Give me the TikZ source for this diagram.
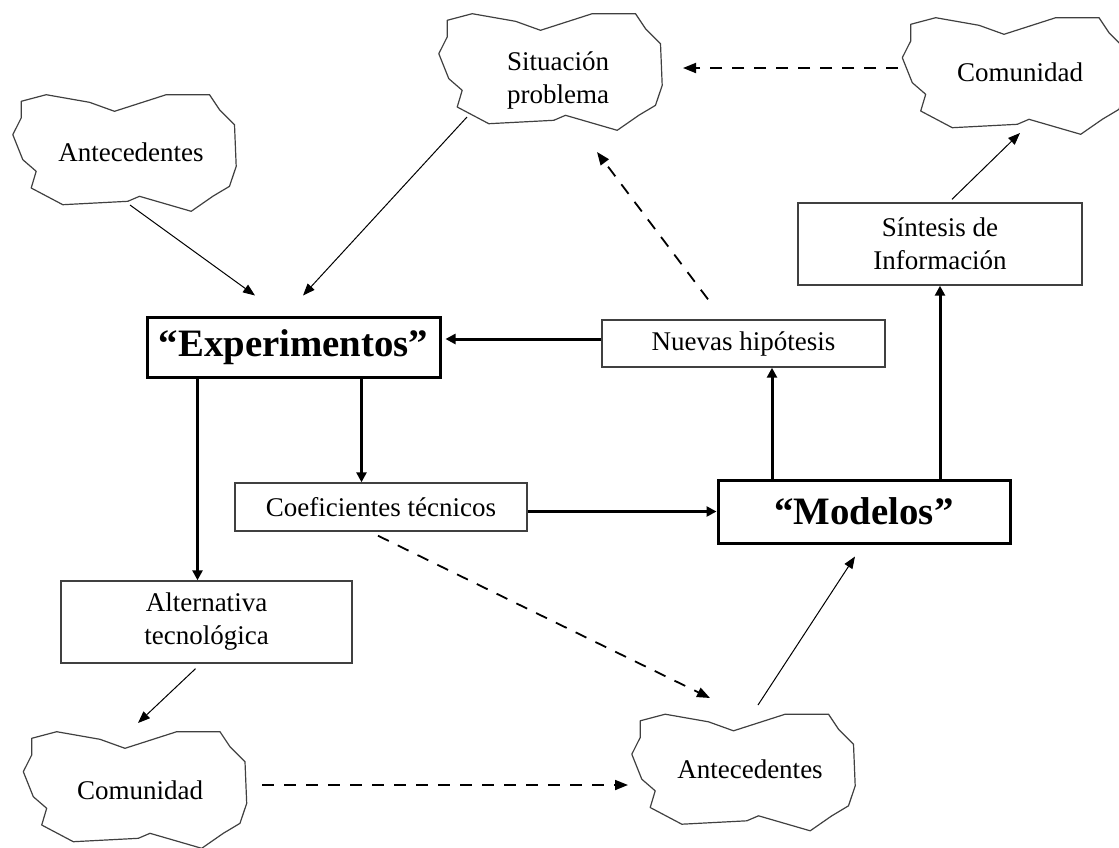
\documentclass[tikz,border=0pt]{standalone}
\usepackage{fontspec}
\setmainfont{Liberation Serif}
\usetikzlibrary{arrows.meta, calc}
\tikzstyle{myBox} = [rectangle, draw=black!75, line width=.7pt, text centered, inner sep=0pt, align=center, font=\fontsize{13.5}{16.5}\selectfont]
\tikzstyle{boldBox} = [rectangle, draw, line width=1.5pt, text centered, inner sep=0pt, font=\fontsize{19.4}{22}\selectfont\bfseries]
\tikzstyle{myCloud} = [inner sep=0pt, align=center, font=\fontsize{13.5}{16.5}\selectfont]
\tikzstyle{cloudLine} = [draw=black!75, line width=.6pt, line join=round]
\tikzstyle{thinArrow} = [-{Triangle[length=6pt,width=4.6pt]}, line width=.5pt]
\tikzstyle{thickArrow} = [-{Triangle[length=5pt,width=5pt]}, line width=1.5pt]
\tikzstyle{dashArrow} = [-{Triangle[length=6.5pt,width=5pt]}, line width=.9pt, dash pattern=on 6pt off 5pt]

\begin{document}
\begin{tikzpicture}[x=0.5pt, y=-0.5pt]
		\useasboundingbox (0,0) rectangle (1119,847);
		% boxes
		\node [boldBox, minimum width=146.5pt, minimum height=30pt](b1) at (293.5,347) {“Experimentos”};
		\node [myBox, minimum width=141.5pt, minimum height=23.5pt](b2) at (743.5,343.5) {Nuevas hipótesis};
		\node [myBox, minimum width=142pt, minimum height=41pt](b3) at (940,244) {Síntesis de\\Información};
		\node [myBox, minimum width=146pt, minimum height=24pt](b4) at (381,507) {Coeficientes técnicos};
		\node [boldBox, minimum width=146pt, minimum height=31.5pt](b5) at (864,511.5) {“Modelos”};
		\node [myBox, minimum width=145.5pt, minimum height=41pt](b6) at (206.5,622) {Alternativa\\tecnológica};
		% clouds
		\node [myCloud](c1) at (131,152) {Antecedentes};
		\node [myCloud](c2) at (558,80) {Situación\\problema};
		\node [myCloud](c3) at (1020,72) {Comunidad};
		\node [myCloud](c4) at (140,790) {Comunidad};
		\node [myCloud](c5) at (750,769) {Antecedentes};
		\foreach \c/\dx/\dy in {c1/-6.5/1, c2/-7.5/-8, c3/-6/4, c4/-5/0, c5/-6.5/3.5}
			\draw [cloudLine, shift={(\c.center)}, shift={(\dx,\dy)}]
				(-103.3,-51.7) -- (-78.3,-58.3) -- (-35,-50.7) -- (-10,-41.7) -- (41.7,-58.3)
				-- (85,-58.3) -- (95,-43.3) -- (110,-28.3) -- (111.7,13.3) -- (105,33.3)
				-- (88.3,43.3) -- (66.7,58.3) -- (15,43.3) -- (3.3,48.3) -- (-61.7,51.7)
				-- (-93.3,35) -- (-88.3,18.3) -- (-101.7,6.7) -- (-111.7,-18.3) -- (-103.3,-35) -- cycle;
		% arrows
		\draw [thinArrow] ($(c1)+(-1,53)$) -- ($(b1.north)+(-38.5,-20)$);
		\draw [thinArrow] ($(c2)+(-91,37)$) -- ($(b1.north)+(9.5,-20)$);
		\draw [thickArrow] ($(b2.west)+(0,-4.5)$) -- ($(b1.east)+(4,-8)$);
		\draw [dashArrow] ($(b2.north)+(-35.5,-20)$) -- ($(c2)+(39,72)$);
		\draw [dashArrow] ($(c3)+(-122,-4)$) -- ($(c2)+(125,-12)$);
		\draw [thinArrow] ($(b3.north)+(12,-3)$) -- ($(c3)+(0,61)$);
		\draw [thickArrow] ($(b5.north)+(-92,0)$) coordinate (m1) -- (m1 |- b2.south);
		\draw [thickArrow] (b5.north -| b3.south) -- (b3.south);
		\draw [thickArrow] ($(b1.south)+(68,0)$) coordinate (e1) -- (e1 |- b4.north);
		\draw [thickArrow] ($(b1.south)+(-96,0)$) coordinate (e2) -- (e2 |- b6.north);
		\draw [thickArrow] (b4.east |- b5.west) -- (b5.west);
		\draw [dashArrow] ($(b4.south)+(-3,4)$) -- ($(c5)+(-40,-71)$);
		\draw [thinArrow] ($(c5)+(8,-64)$) -- ($(b5.south)+(-9,12)$);
		\draw [thinArrow] ($(b6.south)+(-11,5)$) -- ($(c4)+(-2,-67)$);
		\draw [dashArrow] ($(c4)+(122,-5)$) -- ($(c5)+(-122,16)$);
		
\end{tikzpicture}
\end{document}
